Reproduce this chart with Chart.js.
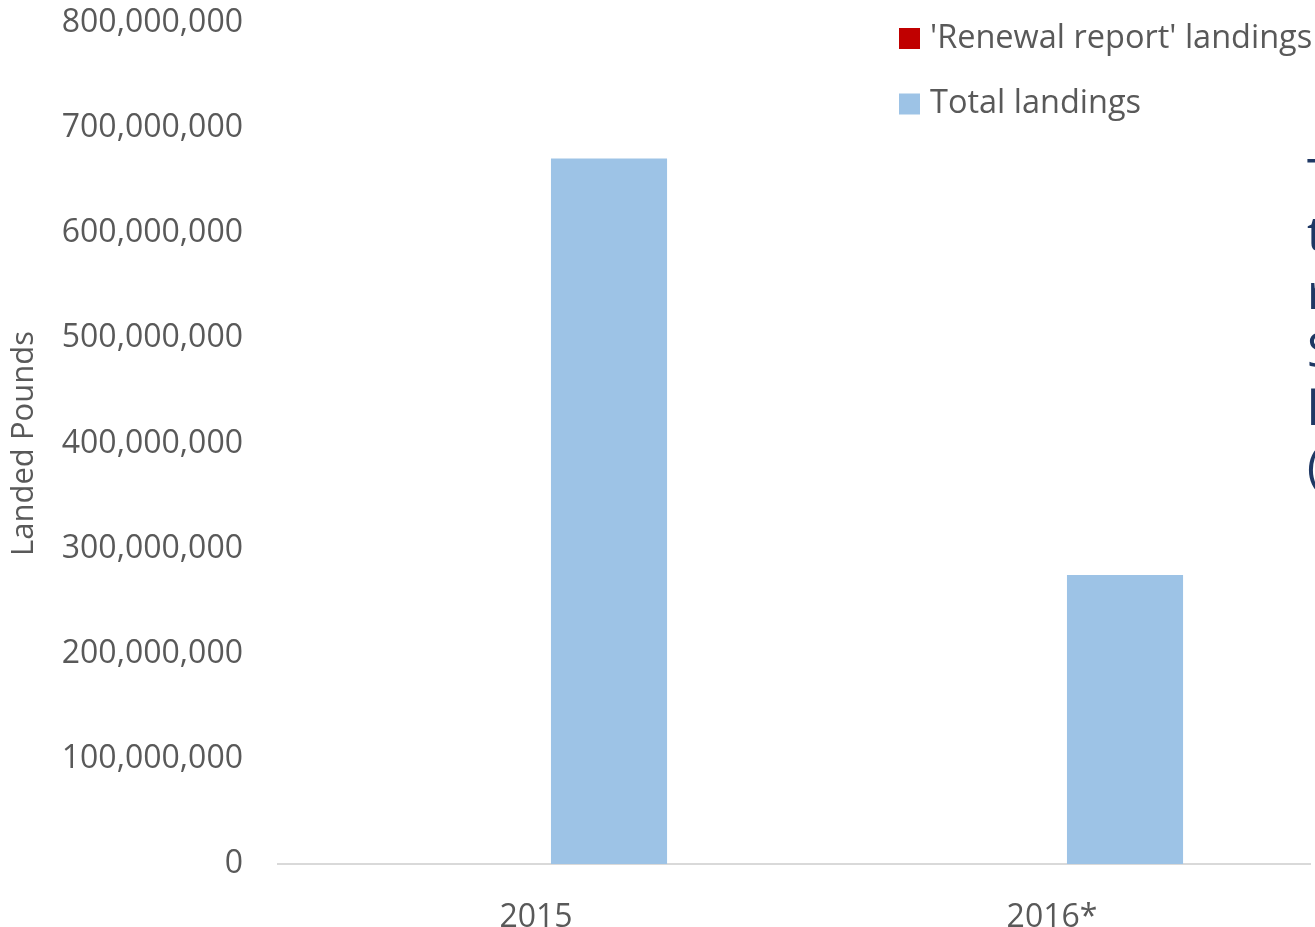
<!DOCTYPE html>
<html>
<head>
<meta charset="utf-8">
<script src="https://cdn.jsdelivr.net/npm/chart.js@4.4.1/dist/chart.umd.min.js"></script>
<style>
  html, body { margin: 0; padding: 0; background: #fff; overflow: hidden; }
  #wrap { position: relative; width: 1315px; height: 927px; overflow: hidden; }
  #side {
    position: absolute; left: 1307px; top: 146px;
    font-family: 'Open Sans', sans-serif; font-size: 48px; line-height: 58px;
    color: #1F3864; white-space: nowrap;
  }
</style>
</head>
<body>
<div id="wrap">
  <canvas id="landingsChart" width="1315" height="927"></canvas>
  <div id="side">T<br>t<br>r<br>S<br>l<br>(</div>
</div>
<script>
// categories + series (landed pounds)
const categories = ["2015", "2016*"];
const renewalLandings = [0, 0];
const totalLandings = [671000000, 275000000];

// axis
const yMin = 0;
const yMax = 800000000;
const yStep = 100000000;

const seriesNames = ["'Renewal report' landings", "Total landings"];
const seriesColors = ["#C00000", "#9DC3E6"];

const textGrey = "#595959";
Chart.defaults.font.family = "'Open Sans', sans-serif";
Chart.defaults.color = textGrey;

// legend drawn by hand, stacked vertically top-right like the original
const stackedLegend = {
    id: "stackedLegend",
    afterDraw(chart) {
        const ctx = chart.ctx;
        const rows = [38.5, 104];
        ctx.save();
        ctx.font = "32.5px 'Open Sans', sans-serif";
        ctx.textBaseline = "middle";
        chart.data.datasets.forEach((ds, i) => {
            ctx.fillStyle = ds.backgroundColor;
            ctx.fillRect(899, rows[i] - 10.5, 21, 21);
            ctx.fillStyle = textGrey;
            ctx.fillText(ds.label, 930, rows[i]);
        });
        ctx.restore();
    }
};

new Chart(document.getElementById("landingsChart"), {
    type: "bar",
    data: {
        labels: categories,
        datasets: [
            { label: seriesNames[0], data: renewalLandings, backgroundColor: seriesColors[0] },
            { label: seriesNames[1], data: totalLandings, backgroundColor: seriesColors[1] }
        ]
    },
    options: {
        responsive: false,
        animation: false,
        devicePixelRatio: 1,
        categoryPercentage: 0.566,
        barPercentage: 0.795,
        layout: { padding: { top: 23, right: 5, left: 0, bottom: 0 } },
        plugins: {
            legend: { display: false },
            tooltip: { enabled: false }
        },
        scales: {
            x: {
                grid: { display: false },
                border: { display: true, color: "#D9D9D9", width: 2 },
                ticks: { font: { size: 32 }, color: textGrey, padding: 27 },
                afterFit(scale) { scale.height = 63; }
            },
            y: {
                min: yMin,
                max: yMax,
                grid: { display: false },
                border: { display: false },
                ticks: {
                    stepSize: yStep,
                    font: { size: 32 },
                    color: textGrey,
                    padding: 27,
                    callback: v => v.toLocaleString("en-US")
                },
                title: {
                    display: true,
                    text: "Landed Pounds",
                    font: { size: 31 },
                    color: textGrey,
                    padding: { top: 6, bottom: 0 }
                },
                afterFit(scale) {
                    scale.width = 278;
                    scale.paddingTop = 0;
                    scale.paddingBottom = 0;
                }
            }
        }
    },
    plugins: [stackedLegend]
});
</script>
</body>
</html>
